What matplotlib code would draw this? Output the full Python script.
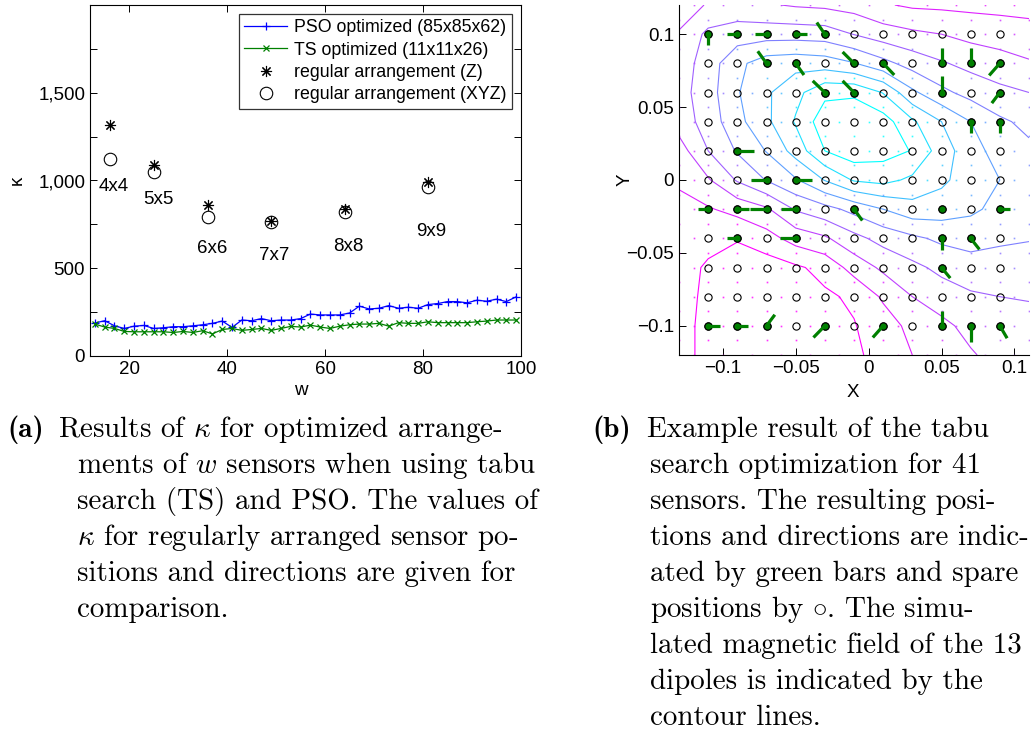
import numpy as np
import matplotlib.pyplot as plt
from matplotlib.ticker import FuncFormatter

plt.rcParams['font.family'] = ['Liberation Sans', 'DejaVu Sans']
plt.rcParams['mathtext.fontset'] = 'cm'

# ---- (a) kappa for optimized / regular arrangements ----
w = [13, 15, 17, 19, 21, 23, 25, 27, 29, 31, 33, 35, 37, 39, 41, 43, 45, 47, 49, 51, 53, 55,
     57, 59, 61, 63, 65, 67, 69, 71, 73, 75, 77, 79, 81, 83, 85, 87, 89, 91, 93, 95, 97, 99]
kappa_pso = [188, 201, 172, 157, 170, 174, 157, 161, 167, 167, 172, 178, 186, 199, 163, 205,
             201, 213, 201, 205, 205, 213, 239, 234, 234, 234, 245, 284, 268, 272, 287, 272,
             278, 272, 293, 299, 310, 310, 303, 318, 312, 324, 310, 337]
kappa_ts = [182, 165, 157, 140, 138, 138, 138, 138, 134, 140, 134, 144, 126, 151, 157, 146,
            151, 157, 146, 157, 169, 165, 176, 165, 157, 170, 178, 182, 182, 186, 170, 190,
            186, 186, 195, 190, 190, 190, 190, 195, 199, 205, 205, 205]

reg_w = [16, 25, 36, 49, 64, 81]
reg_z = [1316, 1088, 860, 769, 836, 989]
reg_xyz = [1120, 1046, 794, 763, 818, 965]
reg_names = ['4x4', '5x5', '6x6', '7x7', '8x8', '9x9']
name_w = [16.9, 26.0, 36.9, 49.7, 64.7, 81.6]
name_k = [968, 894, 610, 575, 623, 712]

# ---- (b) tabu search result ----
grid_x = [-0.11, -0.09, -0.07, -0.05, -0.03, -0.01, 0.01, 0.03, 0.05, 0.07, 0.09]
grid_y = [0.1, 0.08, 0.06, 0.04, 0.02, 0.0, -0.02, -0.04, -0.06, -0.08, -0.1]

# chosen sensors: position and projected direction bar
sel_x = [-0.11, -0.09, -0.07, -0.05, -0.03,
         -0.07, -0.05, -0.01, 0.01, 0.05, 0.07, 0.09,
         -0.03, -0.01, 0.05, 0.09,
         0.07, 0.09,
         -0.09,
         -0.07, -0.05,
         -0.11, -0.09, -0.07, -0.05, -0.01, 0.05, 0.09,
         -0.09, -0.05, 0.05, 0.07,
         0.05,
         -0.11, -0.09, -0.07, -0.03, 0.01, 0.05, 0.07, 0.09]
sel_y = [0.1, 0.1, 0.1, 0.1, 0.1,
         0.08, 0.08, 0.08, 0.08, 0.08, 0.08, 0.08,
         0.06, 0.06, 0.06, 0.06,
         0.04, 0.04,
         0.02,
         0.0, 0.0,
         -0.02, -0.02, -0.02, -0.02, -0.02, -0.02, -0.02,
         -0.04, -0.04, -0.04, -0.04,
         -0.06,
         -0.1, -0.1, -0.1, -0.1, -0.1, -0.1, -0.1, -0.1]
bar_dx = [0, -0.0073, -0.0078, 0.0076, -0.0055,
          -0.006, 0.0057, -0.0078, 0.0076, 0, 0, -0.0073,
          -0.0083, -0.0078, 0, -0.0055,
          0, 0,
          0.0115,
          -0.0108, 0.011,
          -0.0073, 0.008, -0.011, -0.0103, 0.0057, 0, 0.0073,
          -0.0073, -0.0108, 0, 0.006,
          0.006,
          0.008, 0.0076, 0.0057, -0.0078, -0.0071, 0, 0, 0.005]
bar_dy = [-0.0075, 0, 0, 0, 0.008,
          0.0083, -0.008, 0.0078, -0.008, 0.0105, 0.0105, -0.0083,
          0.008, 0.008, 0.011, -0.0073,
          -0.008, -0.008,
          0,
          0, 0,
          0, 0, 0, 0, -0.0078, 0, 0,
          0, 0, -0.008, -0.0076,
          -0.0073,
          0, 0, 0.0076, -0.008, -0.008, 0.0103, -0.0108, -0.0085]

# field level (rows from top y=0.12 to bottom y=-0.12)
field_x = [-0.13, -0.11, -0.09, -0.07, -0.05, -0.03, -0.01, 0.01, 0.03, 0.05, 0.07, 0.09, 0.11]
field_y = [0.12, 0.1, 0.08, 0.06, 0.04, 0.02, 0.0, -0.02, -0.04, -0.06, -0.08, -0.1, -0.12]
field = [
    [2.7, 3.05, 3.35, 3.1, 2.9, 2.8, 2.6, 2.1, 1.85, 1.8, 1.75, 1.7, 1.65],
    [3.05, 4.25, 4.5, 4.57, 4.57, 4.5, 3.97, 3.5, 3.2, 3.0, 2.7, 2.55, 2.4],
    [3.45, 4.5, 5.75, 6.5, 6.65, 6.5, 6.05, 5.3, 4.6, 4.1, 3.7, 3.4, 3.1],
    [3.6, 4.57, 5.92, 6.85, 7.7, 8.75, 8.8, 7.95, 6.2, 5.25, 4.65, 4.25, 4.0],
    [3.45, 4.43, 5.7, 6.78, 8.1, 9.6, 9.85, 9.45, 8.17, 7.0, 6.0, 5.17, 4.75],
    [2.55, 4.0, 5.1, 6.05, 7.4, 9.0, 9.6, 9.4, 8.95, 7.5, 6.4, 5.6, 5.2],
    [2.1, 2.9, 4.1, 5.05, 5.9, 7.05, 8.1, 8.3, 7.8, 7.2, 6.5, 6.0, 5.35],
    [1.8, 1.9, 2.35, 2.85, 4.1, 4.65, 5.3, 6.0, 6.6, 6.5, 6.2, 5.7, 5.3],
    [1.6, 1.35, 1.03, 1.6, 2.4, 2.85, 3.7, 4.35, 4.8, 5.2, 5.35, 5.15, 5.05],
    [1.45, 0.85, 0.8, 0.5, 0.85, 1.3, 2.4, 3.2, 3.75, 4.25, 4.6, 4.6, 4.6],
    [1.35, 0.8, 0.6, 0.55, 0.6, 0.85, 1.15, 2.15, 3.0, 3.5, 3.85, 4.0, 4.05],
    [1.3, 0.75, 0.5, 0.5, 0.55, 0.7, 0.95, 1.5, 2.3, 2.75, 3.3, 3.6, 3.75],
    [1.3, 0.75, 0.45, 0.45, 0.5, 0.65, 0.85, 1.3, 2.0, 2.4, 2.9, 3.35, 3.5],
]
levels = [1, 2, 3, 4, 5, 6, 7, 8, 9]

caption_a = [r'Results of $\kappa$ for optimized arrange-',
             r'ments of $w$ sensors when using tabu',
             'search (TS) and PSO. The values of',
             r'$\kappa$ for regularly arranged sensor po-',
             'sitions and directions are given for',
             'comparison.']
caption_b = ['Example result of the tabu',
             'search optimization for 41',
             'sensors. The resulting posi-',
             'tions and directions are indic-',
             'ated by green bars and spare',
             r'positions by $\circ$. The simu-',
             'lated magnetic field of the 13',
             'dipoles is indicated by the',
             'contour lines.']

W, H = 1031, 733
fig = plt.figure(figsize=(W / 100, H / 100), dpi=100)
green = (0, 0.5, 0)

# left panel
ax = fig.add_axes([90 / W, 1 - 356 / H, 431 / W, 351 / H])
ax.plot(w, kappa_pso, '-', color='b', marker='+', ms=6, mew=0.9, lw=0.9,
        label='PSO optimized (85x85x62)')
ax.plot(w, kappa_ts, '-', color=green, marker='x', ms=5, mew=0.9, lw=0.9,
        label='TS optimized (11x11x26)')
ax.plot(reg_w, reg_z, ls='none', marker=(8, 2, 0), ms=8, mew=0.8, color='k',
        label='regular arrangement (Z)')
ax.plot(reg_w, reg_xyz, ls='none', marker='o', ms=9, mfc='none', mec='k', mew=0.8,
        label='regular arrangement (XYZ)')
for name, nw, nk in zip(reg_names, name_w, name_k):
    ax.text(nw, nk, name, ha='center', va='center', fontsize=13.5)

ax.set_xlim(12, 100)
ax.set_ylim(0, 2000)
ax.set_xticks([20, 40, 60, 80, 100])
ax.set_yticks([0, 250, 500, 750, 1000, 1250, 1500, 1750])
ax.yaxis.set_major_formatter(FuncFormatter(lambda v, p: f'{v:,.0f}' if v % 500 == 0 else ''))
ax.tick_params(direction='in', top=True, right=True, labelsize=13.5, length=5, width=0.7)
for s in ax.spines.values():
    s.set_linewidth(0.8)
ax.set_ylabel('κ', fontsize=13.5)
ax.yaxis.set_label_coords(-0.169, 0.5)
ax.yaxis.label.set_va('center')
ax.set_xlabel('w', fontsize=13.5)
ax.xaxis.set_label_coords(0.49, -0.097)
ax.xaxis.label.set_va('center')
leg = ax.legend(loc='upper right', fontsize=12.8, frameon=True, fancybox=False,
                edgecolor='k', handlelength=2.4, labelspacing=0.3, borderaxespad=0.5,
                borderpad=0.3, handletextpad=0.4)
leg.get_frame().set_linewidth(0.9)

# right panel
bx = fig.add_axes([679 / W, 1 - 355 / H, 350 / W, 350 / H])
fz = np.array(field)[::-1]
fy = field_y[::-1]
bx.contour(field_x, fy, fz, levels=levels, cmap='cool_r', linewidths=0.8)

# small field markers between the grid points
for j, yv in enumerate(field_y):
    for i, xv in enumerate(field_x):
        c = plt.cm.cool_r((field[j][i] - 1) / 8)
        bx.plot([xv + 0.01, xv], [yv, yv + 0.01], ls='none', marker='s', ms=1.2,
                mec='none', mfc=c, alpha=0.8)

gx, gy = np.meshgrid(grid_x, grid_y)
bx.plot(gx.ravel(), gy.ravel(), ls='none', marker='o', ms=5.2, mfc='none', mec='k', mew=0.8)
bx.plot(sel_x, sel_y, ls='none', marker='o', ms=5.2, mfc=green, mec='k', mew=0.8)
for x0, y0, dx, dy in zip(sel_x, sel_y, bar_dx, bar_dy):
    if dx != 0 or dy != 0:
        bx.plot([x0, x0 + dx], [y0, y0 + dy], color=green, lw=2.3, solid_capstyle='butt')

bx.set_xlim(-0.13, 0.11)
bx.set_ylim(-0.12, 0.12)
bx.set_xticks([-0.1, -0.05, 0, 0.05, 0.1])
bx.set_xticklabels(['\u22120.1', '\u22120.05', '0', '0.05', '0.1'])
bx.set_yticks([-0.1, -0.05, 0, 0.05, 0.1])
bx.set_yticklabels(['\u22120.1', '\u22120.05', '0', '0.05', '0.1'])
bx.spines['top'].set_visible(False)
bx.spines['right'].set_visible(False)
for s in ['left', 'bottom']:
    bx.spines[s].set_linewidth(0.8)
bx.tick_params(direction='in', labelsize=13.5, length=5, width=0.7)
bx.set_xlabel('X', fontsize=13.5)
bx.xaxis.set_label_coords(0.497, -0.106)
bx.xaxis.label.set_va('center')
bx.set_ylabel('Y', fontsize=13.5)
bx.yaxis.set_label_coords(-0.154, 0.5)
bx.yaxis.label.set_va('center')

# captions
cap_size = 20.9
for k, line in enumerate(caption_a):
    yb = 1 - (437 + 36 * k) / H
    xl = 58 if k == 0 else 77
    fig.text(xl / W, yb, line, family='cmr10', fontsize=cap_size, va='baseline')
fig.text(7 / W, 1 - 437 / H, '(a)', family='cmb10', fontsize=cap_size, va='baseline')
for k, line in enumerate(caption_b):
    yb = 1 - (437 + 36 * k) / H
    xl = 647 if k == 0 else 650
    fig.text(xl / W, yb, line, family='cmr10', fontsize=cap_size, va='baseline')
fig.text(592 / W, 1 - 437 / H, '(b)', family='cmb10', fontsize=cap_size, va='baseline')

fig.savefig('out.png', dpi=100)
